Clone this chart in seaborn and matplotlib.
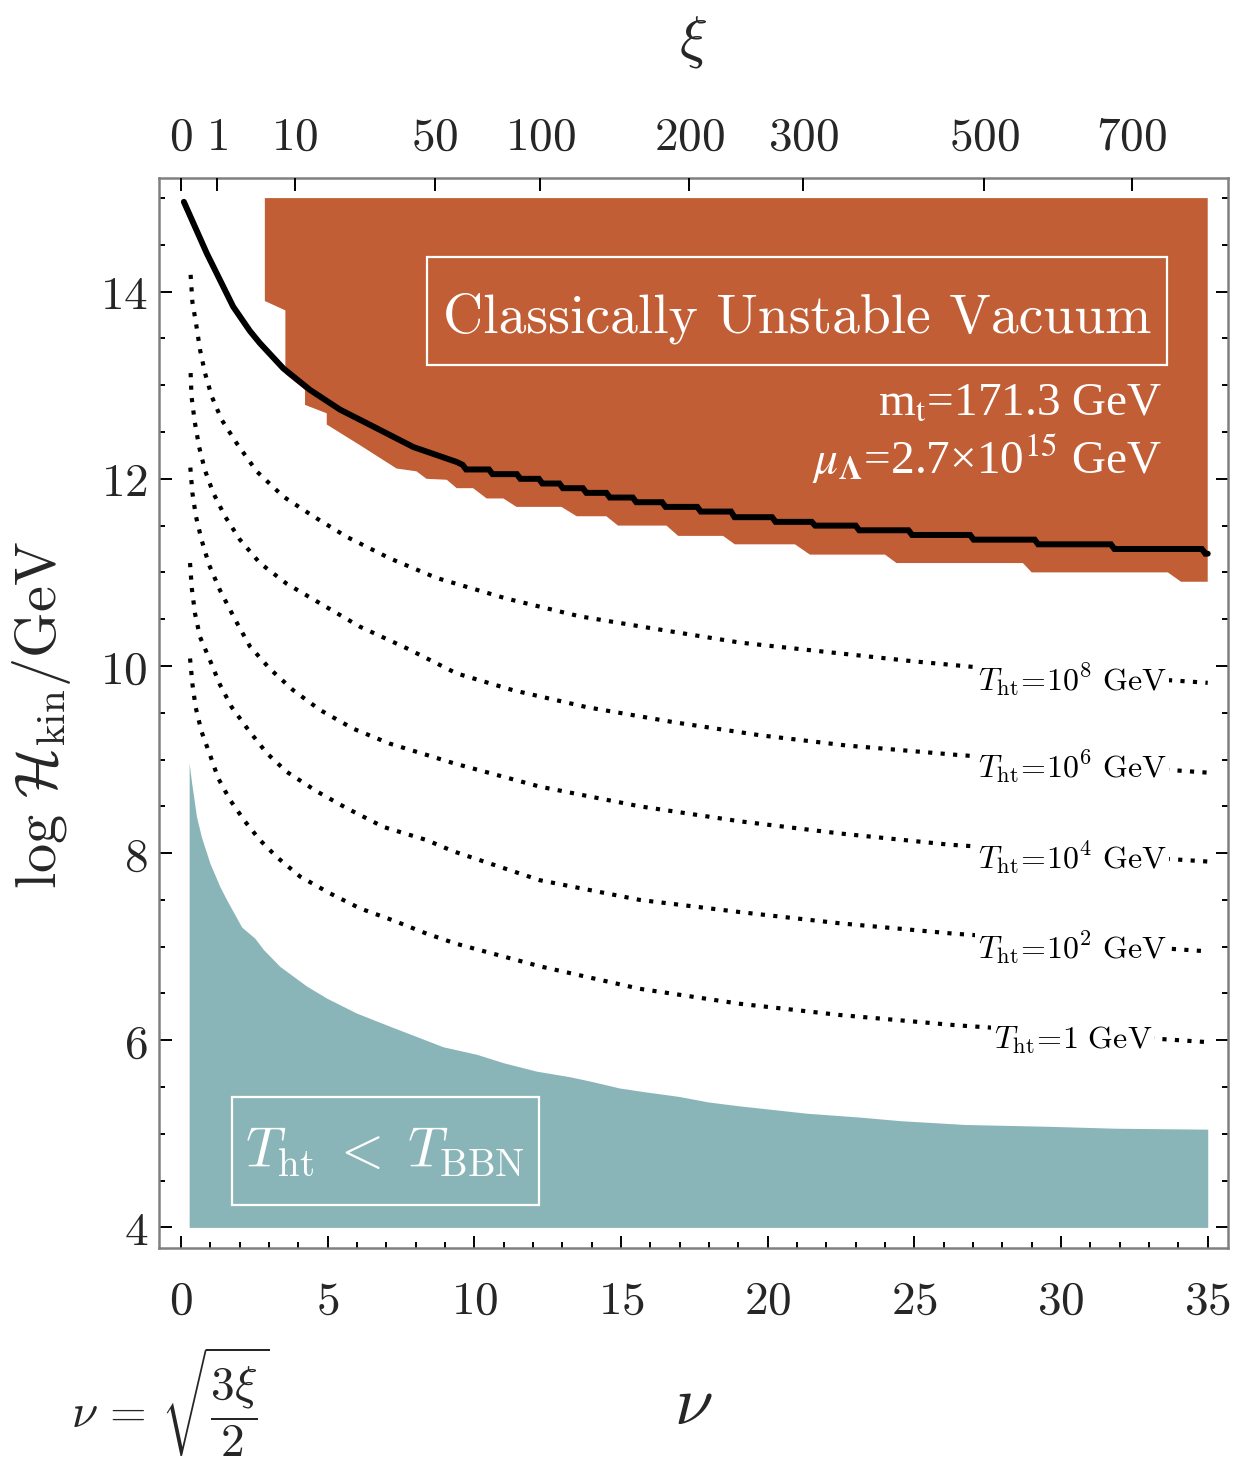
import numpy as np
import pandas as pd
import matplotlib
matplotlib.use("Agg")
import matplotlib.pyplot as plt
import seaborn as sns
from matplotlib.patches import Rectangle

# ---------------- data ----------------
# black solid line: smooth part, then staircase part
line_nu_smooth = [0.10, 0.88, 1.78, 2.35, 2.69, 3.49, 4.40, 5.42, 6.55, 7.92, 9.40, 9.60]
line_y_smooth = [14.96, 14.41, 13.84, 13.58, 13.45, 13.18, 12.95, 12.74, 12.56, 12.34, 12.18, 12.15]
step_nu = [9.6, 10.5, 11.45, 12.2, 12.9, 13.7, 14.5, 15.4, 16.4, 17.6, 18.75, 20.15,
           21.5, 23.0, 24.8, 26.9, 29.1, 31.7, 34.8]
step_y = [12.10, 12.05, 12.00, 11.95, 11.90, 11.85, 11.80, 11.75, 11.70, 11.65, 11.59, 11.54,
          11.50, 11.45, 11.40, 11.35, 11.30, 11.25, 11.20]
line_nu_end = 35.0

# orange region (classically unstable vacuum) outline
orange_nu = [2.86, 2.86, 3.56, 3.56, 4.23, 4.23, 4.97, 4.97, 6.10, 7.35, 8.03, 8.37, 9.06, 9.40,
             9.96, 10.42, 10.99, 11.44, 12.97, 13.49, 14.50, 14.90, 16.55, 16.95, 18.48, 18.88,
             20.93, 21.44, 24.00, 24.39, 28.70, 29.00, 33.64, 34.09, 35.00, 35.00]
orange_y = [15.00, 13.90, 13.80, 13.12, 12.95, 12.79, 12.70, 12.58, 12.36, 12.11, 12.08, 12.00,
            11.99, 11.90, 11.90, 11.79, 11.79, 11.70, 11.70, 11.60, 11.60, 11.50, 11.50, 11.39,
            11.39, 11.30, 11.30, 11.19, 11.19, 11.10, 11.10, 11.00, 11.00, 10.90, 10.90, 15.00]

# teal region (T_ht < T_BBN) upper boundary
teal_nu = [0.28, 0.36, 0.53, 0.70, 0.99, 1.33, 1.56, 2.07, 2.52, 2.81, 3.37, 4.28, 4.97, 5.99,
           7.12, 8.03, 8.94, 10.08, 10.99, 12.12, 13.26, 14.00, 14.95, 15.80, 16.97, 17.99,
           19.01, 20.18, 21.34, 23.10, 24.55, 26.74, 29.66, 31.85, 35.00]
teal_top = [8.96, 8.76, 8.39, 8.17, 7.89, 7.64, 7.50, 7.21, 7.09, 6.97, 6.79, 6.58, 6.45, 6.29,
            6.15, 6.04, 5.93, 5.85, 5.76, 5.67, 5.61, 5.56, 5.49, 5.45, 5.40, 5.34,
            5.30, 5.26, 5.22, 5.18, 5.14, 5.10, 5.08, 5.06, 5.05]
teal_bottom = 4.0

# dotted reheating-temperature curves
tA_nu = [0.33, 0.39, 0.53, 0.65, 0.82, 1.05, 1.39, 1.90, 2.58, 3.49, 4.51, 5.65, 7.12, 8.72,
         11.1, 13.6, 16.1, 19.05, 22.0, 24.96, 27.0, 35.0]
tA_y = [14.18, 13.89, 13.63, 13.38, 13.13, 12.88, 12.63, 12.38, 12.08, 11.81, 11.60, 11.38,
        11.15, 10.94, 10.72, 10.53, 10.40, 10.25, 10.15, 10.05, 9.99, 9.82]
tB_nu = [0.33, 0.36, 0.47, 0.62, 0.82, 1.10, 1.50, 2.01, 2.69, 3.60, 4.74, 6.10, 7.69, 9.40,
         11.33, 13.83, 16.78, 19.73, 22.69, 26.44, 35.0]
tB_y = [13.13, 12.88, 12.61, 12.34, 12.09, 11.85, 11.60, 11.35, 11.10, 10.88, 10.67, 10.42,
        10.19, 9.92, 9.74, 9.56, 9.40, 9.26, 9.15, 9.05, 8.86]
tC_nu = [0.32, 0.39, 0.51, 0.70, 0.96, 1.33, 1.84, 2.35, 3.03, 3.83, 4.74, 5.87, 7.12, 8.37,
         9.30, 12.24, 15.64, 19.05, 22.46, 26.20, 35.0]
tC_y = [12.12, 11.85, 11.60, 11.35, 11.08, 10.81, 10.50, 10.21, 9.97, 9.74, 9.53, 9.33,
        9.17, 9.05, 8.96, 8.71, 8.50, 8.34, 8.21, 8.09, 7.91]
tD_nu = [0.31, 0.37, 0.48, 0.65, 0.99, 1.33, 1.73, 2.29, 2.92, 3.60, 4.63, 5.65, 6.90, 8.37,
         9.28, 12.24, 15.64, 19.05, 22.46, 26.32, 35.0]
tD_y = [11.10, 10.83, 10.56, 10.31, 10.06, 9.80, 9.56, 9.32, 9.07, 8.87, 8.66, 8.48,
        8.28, 8.14, 8.02, 7.71, 7.50, 7.37, 7.25, 7.14, 6.95]
tE_nu = [0.31, 0.39, 0.50, 0.70, 0.99, 1.27, 1.67, 2.18, 2.69, 3.26, 4.06, 5.08, 6.10, 7.24,
         8.37, 9.40, 12.24, 15.64, 19.05, 22.46, 26.44, 35.0]
tE_y = [10.08, 9.81, 9.56, 9.30, 9.05, 8.80, 8.57, 8.34, 8.14, 7.96, 7.75, 7.57, 7.41, 7.28,
        7.14, 7.03, 6.79, 6.55, 6.39, 6.27, 6.16, 5.98]
curve_labels = [r'$T_{\rm ht}\!=\!10^{8}\ {\rm GeV}$', r'$T_{\rm ht}\!=\!10^{6}\ {\rm GeV}$',
                r'$T_{\rm ht}\!=\!10^{4}\ {\rm GeV}$', r'$T_{\rm ht}\!=\!10^{2}\ {\rm GeV}$',
                r'$T_{\rm ht}\!=\!1\ {\rm GeV}$']

# axes ticks
nu_major = [0, 5, 10, 15, 20, 25, 30, 35]
y_major = [4, 6, 8, 10, 12, 14]
xi_ticks = [0, 1, 10, 50, 100, 200, 300, 500, 700]

# ---------------- style ----------------
sns.set_theme(style="white")
plt.rcParams["mathtext.fontset"] = "cm"
plt.rcParams["font.family"] = ["DejaVu Serif"]

ORANGE = "#C25E36"
TEAL = "#8AB5B8"
SPINE = "#808080"

fig = plt.figure(figsize=(12.35, 14.6), dpi=100)
ax = fig.add_axes([0.1287, 0.1452, 0.8656, 0.7329])
ax.set_xlim(-0.75, 35.69)
ax.set_ylim(3.78, 15.215)

# regions
ax.fill(orange_nu, orange_y, color=ORANGE, lw=0, zorder=1)
ax.fill_between(teal_nu, teal_top, teal_bottom, color=TEAL, lw=0, zorder=1)

# dotted curves
curves = [(tA_nu, tA_y), (tB_nu, tB_y), (tC_nu, tC_y), (tD_nu, tD_y), (tE_nu, tE_y)]
for (cx, cy) in curves:
    df = pd.DataFrame({"nu": cx, "logH": cy})
    sns.lineplot(data=df, x="nu", y="logH", ax=ax, color="black", lw=3.0,
                 linestyle=(0, (1.0, 2.0)), estimator=None, sort=False, zorder=3)

# black solid line (with staircase)
bx = list(line_nu_smooth)
by = list(line_y_smooth)
prev = by[-1]
for sn, sy in zip(step_nu, step_y):
    bx += [sn, sn + 0.12]
    by += [prev, sy]
    prev = sy
bx.append(line_nu_end)
by.append(prev)
sns.lineplot(x=bx, y=by, ax=ax, color="black", lw=4.3, estimator=None, sort=False,
             zorder=4, solid_joinstyle="miter")

# curve labels
label_pos = [(27.16, 9.86), (27.16, 8.93), (27.16, 7.95), (27.16, 6.99), (27.7, 6.00)]
for lab, (lx, ly) in zip(curve_labels, label_pos):
    ax.text(lx, ly, lab, fontsize=23, ha="left", va="center", color="black", zorder=5,
            bbox=dict(facecolor="white", edgecolor="none", pad=1.5))

# boxes
ax.add_patch(Rectangle((8.38, 13.22), 33.6 - 8.38, 14.37 - 13.22, fill=False,
                       edgecolor="white", lw=1.6, zorder=5))
ax.text((8.38 + 33.6) / 2, (13.22 + 14.37) / 2 - 0.08, "Classically Unstable Vacuum",
        fontfamily="cmr10", fontsize=40, color="white", ha="center", va="center", zorder=6)
ax.text(33.45, 12.80, r"m$_{\mathrm{t}}$=171.3 GeV", fontfamily="Liberation Serif",
        math_fontfamily="stix", fontsize=34, color="white", ha="right", va="center", zorder=6)
ax.text(33.45, 12.22, r"$\mu_{\mathbf{\Lambda}}$=2.7×10$^{15}$ GeV", fontfamily="Liberation Serif",
        math_fontfamily="stix", fontsize=34, color="white", ha="right", va="center", zorder=6)

ax.add_patch(Rectangle((1.74, 4.24), 12.2 - 1.74, 5.39 - 4.24, fill=False,
                       edgecolor="white", lw=1.6, zorder=5))
ax.text((1.74 + 12.2) / 2, (4.24 + 5.39) / 2, r"$T_{\rm ht}\;<\;T_{\rm BBN}$",
        fontsize=40, color="white", ha="center", va="center", zorder=6)

# ticks & spines
ax.set_xticks(nu_major)
ax.set_xticklabels([f"${v}$" for v in nu_major])
ax.set_xticks(np.arange(0, 36, 1), minor=True)
ax.set_yticks(y_major)
ax.set_yticklabels([f"${v}$" for v in y_major])
ax.set_yticks(np.arange(4, 15.01, 0.5), minor=True)
ax.set_xlabel("")
ax.set_ylabel("")
ax.tick_params(which="both", direction="in", top=False, right=True, bottom=True, left=True,
               color="black", width=1.4)
ax.tick_params(which="major", length=9, labelsize=34)
ax.tick_params(axis="x", which="major", pad=22)
ax.tick_params(axis="y", which="major", pad=8)
ax.tick_params(which="minor", length=4.5)
for s in ax.spines.values():
    s.set_color(SPINE)
    s.set_linewidth(1.8)
    s.set_zorder(10)

ax2 = ax.twiny()
ax2.set_xlim(ax.get_xlim())
ax2.set_xticks([np.sqrt(1.5 * x) for x in xi_ticks])
ax2.set_xticklabels([f"${x}$" for x in xi_ticks])
ax2.tick_params(axis="x", direction="in", length=9, width=1.4, labelsize=34, pad=13, color="black")
for s in ax2.spines.values():
    s.set_visible(False)

# axis titles
fig.text(0.561, 0.971, r"$\xi$", fontsize=42, ha="center", va="center")
fig.text(0.561, 0.038, r"$\nu$", fontsize=50, ha="center", va="center")
fig.text(0.034, 0.510, r"$\log\,\mathcal{H}_{\rm kin}/{\rm GeV}$", fontsize=42, rotation=90,
         ha="center", va="center")
fig.text(0.138, 0.040, r"$\nu\,=\,\sqrt{\dfrac{3\xi}{2}}$", fontsize=34, ha="center", va="center")

fig.savefig("out.png", dpi=100)
